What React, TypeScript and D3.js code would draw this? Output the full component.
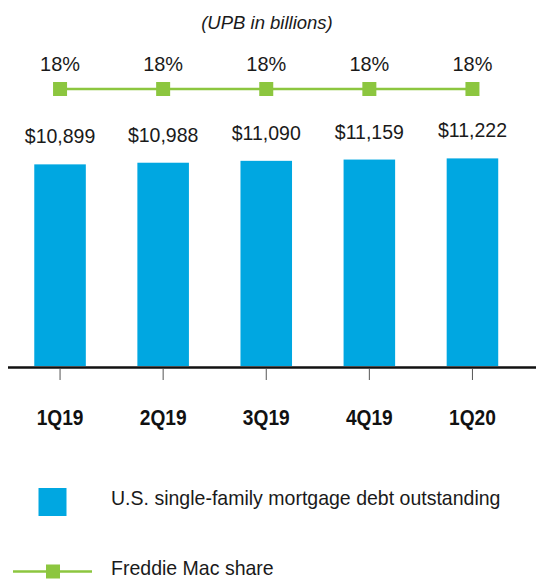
import React, { useRef, useEffect } from 'react';
import * as d3 from 'd3';

const quarters = ['1Q19', '2Q19', '3Q19', '4Q19', '1Q20'];
const debtOutstanding = [10899, 10988, 11090, 11159, 11222];
const freddieShare = [18, 18, 18, 18, 18];
const yTicks = [0, 12000];

const BLUE = '#00a7e1';
const GREEN = '#8cc63f';
const FONT = "'Liberation Sans', Arial, sans-serif";

const App = () => {
  const svgRef = useRef<SVGSVGElement | null>(null);

  useEffect(() => {
    document.body.style.margin = '0';
    const width = 536;
    const height = 579;
    const svg = d3.select(svgRef.current);
    svg.selectAll('*').remove();
    svg.attr('viewBox', `0 0 ${width} ${height}`);

    const x = d3.scaleBand<string>().domain(quarters).range([8.5, 524]).paddingInner(0.5).paddingOuter(0.25);
    const y = d3.scaleLinear().domain([yTicks[0], yTicks[1]]).range([366, 144]);
    const cx = (q: string) => (x(q) as number) + x.bandwidth() / 2;
    const baseline = y(0);

    // condensed look: squeeze the glyphs horizontally
    const squeeze = (tx: number, ty: number, sx: number) => `translate(${tx},${ty}) scale(${sx},1)`;

    // subtitle
    svg.append('text').attr('x', 267).attr('y', 29).attr('text-anchor', 'middle')
      .attr('font-family', FONT).attr('font-style', 'italic').attr('font-size', 18.5)
      .attr('fill', '#1a1a1a').text('(UPB in billions)');

    // share line
    const shareY = 89;
    const line = d3.line<number>().x((_, i) => cx(quarters[i])).y(() => shareY);
    svg.append('path').datum(freddieShare).attr('fill', 'none').attr('stroke', GREEN)
      .attr('stroke-width', 2.5).attr('d', line);
    svg.selectAll('.marker').data(freddieShare).enter().append('rect').attr('class', 'marker')
      .attr('x', (_, i) => cx(quarters[i]) - 7).attr('y', shareY - 7)
      .attr('width', 14).attr('height', 14).attr('fill', GREEN);
    svg.selectAll('.pct').data(freddieShare).enter().append('text').attr('class', 'pct')
      .attr('transform', (_, i) => squeeze(cx(quarters[i]), 71, 0.95)).attr('text-anchor', 'middle')
      .attr('font-family', FONT).attr('font-size', 21).attr('fill', '#1a1a1a')
      .text(d => `${d}%`);

    // bars
    svg.selectAll('.bar').data(debtOutstanding).enter().append('rect').attr('class', 'bar')
      .attr('x', (_, i) => x(quarters[i]) as number).attr('y', d => y(d))
      .attr('width', x.bandwidth()).attr('height', d => baseline - y(d)).attr('fill', BLUE);
    svg.selectAll('.val').data(debtOutstanding).enter().append('text').attr('class', 'val')
      .attr('transform', (d, i) => squeeze(cx(quarters[i]), y(d) - 21, 0.93)).attr('text-anchor', 'middle')
      .attr('font-family', FONT).attr('font-size', 21).attr('fill', '#1a1a1a')
      .text(d => `$${d3.format(',')(d)}`);

    // axis
    svg.append('line').attr('x1', 8).attr('x2', width).attr('y1', baseline + 1.5).attr('y2', baseline + 1.5)
      .attr('stroke', '#111').attr('stroke-width', 2.5);
    svg.selectAll('.tick').data(quarters).enter().append('line').attr('class', 'tick')
      .attr('x1', d => cx(d)).attr('x2', d => cx(d)).attr('y1', baseline + 3).attr('y2', baseline + 14)
      .attr('stroke', '#555').attr('stroke-width', 1);
    svg.selectAll('.cat').data(quarters).enter().append('text').attr('class', 'cat')
      .attr('transform', d => squeeze(cx(d), 424.5, 0.87)).attr('text-anchor', 'middle')
      .attr('font-family', FONT).attr('font-size', 22).attr('font-weight', 'bold').attr('fill', '#111')
      .text(d => d);

    // legend
    svg.append('rect').attr('x', 38.5).attr('y', 488).attr('width', 28).attr('height', 28).attr('fill', BLUE);
    svg.append('text').attr('transform', squeeze(111, 505, 0.93)).attr('font-family', FONT).attr('font-size', 21)
      .attr('fill', '#1a1a1a').text('U.S. single-family mortgage debt outstanding');
    svg.append('line').attr('x1', 13).attr('x2', 92).attr('y1', 571.5).attr('y2', 571.5)
      .attr('stroke', GREEN).attr('stroke-width', 2.5);
    svg.append('rect').attr('x', 46).attr('y', 564.5).attr('width', 14).attr('height', 14).attr('fill', GREEN);
    svg.append('text').attr('transform', squeeze(111, 575, 0.93)).attr('font-family', FONT).attr('font-size', 21)
      .attr('fill', '#1a1a1a').text('Freddie Mac share');
  }, []);

  return <svg ref={svgRef} width={536} height={579} style={{ display: 'block' }} />;
};

export default App;
